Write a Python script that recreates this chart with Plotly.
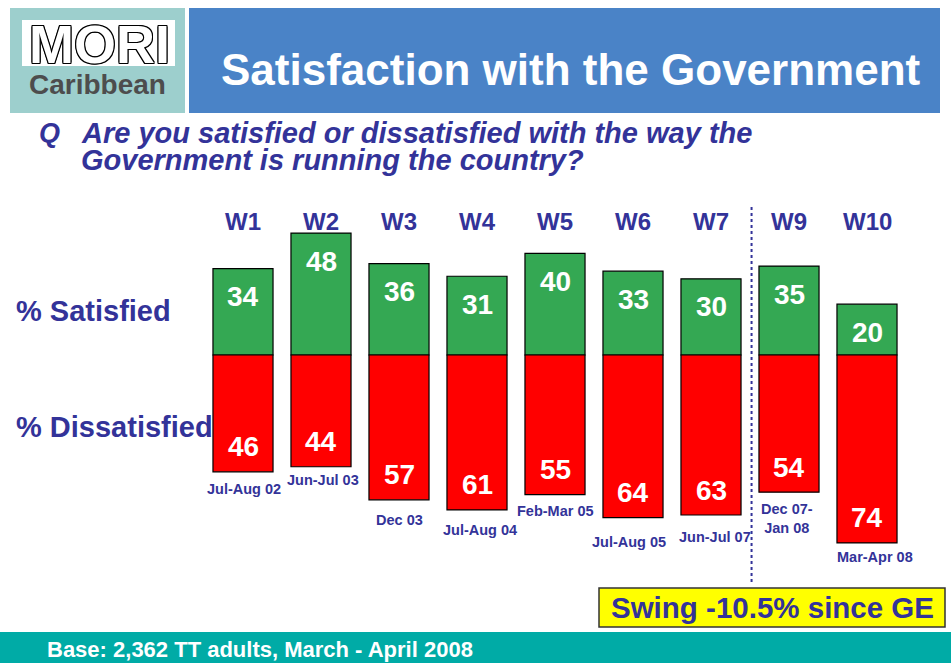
import plotly.graph_objects as go

# ---- data ----
waves = ["W1", "W2", "W3", "W4", "W5", "W6", "W7", "W9", "W10"]
periods = ["Jul-Aug 02", "Jun-Jul 03", "Dec 03", "Jul-Aug 04", "Feb-Mar 05",
           "Jul-Aug 05", "Jun-Jul 07", "Dec 07-<br>Jan 08", "Mar-Apr 08"]
satisfied = [34, 48, 36, 31, 40, 33, 30, 35, 20]
dissatisfied = [46, 44, 57, 61, 55, 64, 63, 54, 74]

# ---- layout helpers (pixel -> paper) ----
W, H = 951, 663
def px(x):
    return x / W
def py(y):
    return 1 - y / H

# vertical / horizontal offsets of period labels below bar bottoms (layout tweak, px)
period_dy = [17, 13, 20, 20, 16, 24, 22, 26, 14]
period_dx = [1, 2, 0, 3, 0, -4, 4, -2, 8]

NAVY = "#333399"
GREEN = "#34A853"
RED = "#FF0000"
FONT = "Arial, Liberation Sans, sans-serif"

fig = go.Figure()
fig.add_trace(go.Bar(x=waves, y=satisfied, name="% Satisfied",
                     marker=dict(color=GREEN, line=dict(color="black", width=1.2)),
                     hoverinfo="skip"))
fig.add_trace(go.Bar(x=waves, y=[-d for d in dissatisfied], name="% Dissatisfied",
                     marker=dict(color=RED, line=dict(color="black", width=1.2)),
                     hoverinfo="skip"))

ppu = 2.54            # pixels per percentage point
base_px = 355         # baseline pixel row
ytop = base_px / ppu
ybot = ytop - H / ppu
pitch = 78.0
c0 = 243.0
xlo = -c0 / pitch
xhi = (W - c0) / pitch

ann = []
shapes = []

# header boxes
shapes.append(dict(type="rect", xref="paper", yref="paper", x0=px(10), x1=px(185), y0=py(113), y1=py(8),
                   fillcolor="#9DCFCD", line=dict(width=0), layer="below"))
shapes.append(dict(type="rect", xref="paper", yref="paper", x0=px(22), x1=px(175), y0=py(66), y1=py(20),
                   fillcolor="white", line=dict(width=0), layer="below"))
shapes.append(dict(type="rect", xref="paper", yref="paper", x0=px(189), x1=px(940), y0=py(113), y1=py(8),
                   fillcolor="#4A83C7", line=dict(width=0), layer="below"))
# footer
shapes.append(dict(type="rect", xref="paper", yref="paper", x0=0, x1=1, y0=0, y1=py(632),
                   fillcolor="#00ABA6", line=dict(width=0), layer="below"))
# swing box
shapes.append(dict(type="rect", xref="paper", yref="paper", x0=px(599), x1=px(945), y0=py(627), y1=py(588),
                   fillcolor="#FFFF00", line=dict(color="#333333", width=1.5), layer="below"))
# dashed divider between W7 and W9
shapes.append(dict(type="line", xref="x", yref="paper", x0=6.52, x1=6.52, y0=py(582), y1=py(205),
                   line=dict(color=NAVY, width=2, dash="dot")))

outline = ("1px 1px 0 #000, -1px -1px 0 #000, 1px -1px 0 #000, -1px 1px 0 #000, "
           "0 1px 0 #000, 1px 0 0 #000, 0 -1px 0 #000, -1px 0 0 #000")
ann.append(dict(text="<b>MORI</b>", xref="paper", yref="paper", x=px(99), y=py(44),
                showarrow=False, xanchor="center", yanchor="middle",
                font=dict(family=FONT, size=54, color="white", shadow=outline)))
ann.append(dict(text="<b>Caribbean</b>", xref="paper", yref="paper", x=px(97), y=py(84),
                showarrow=False, xanchor="center", yanchor="middle",
                font=dict(family=FONT, size=28, color="#4D4D4D")))
ann.append(dict(text="<b>Satisfaction with the Government</b>", xref="paper", yref="paper",
                x=px(571), y=py(70), showarrow=False, xanchor="center", yanchor="middle",
                font=dict(family=FONT, size=44, color="white")))

# question
ann.append(dict(text="<b><i>Q</i></b>", xref="paper", yref="paper", x=px(37), y=py(133),
                showarrow=False, xanchor="left", yanchor="middle",
                font=dict(family=FONT, size=27, color=NAVY)))
ann.append(dict(text="<b><i>Are you satisfied or dissatisfied with the way the</i></b>", xref="paper",
                yref="paper", x=px(79), y=py(133), showarrow=False, xanchor="left", yanchor="middle",
                font=dict(family=FONT, size=29, color=NAVY)))
ann.append(dict(text="<b><i>Government is running the country?</i></b>", xref="paper",
                yref="paper", x=px(79), y=py(160), showarrow=False, xanchor="left", yanchor="middle",
                font=dict(family=FONT, size=29, color=NAVY)))

# row labels
ann.append(dict(text="<b>% Satisfied</b>", xref="paper", yref="paper", x=px(14), y=py(311),
                showarrow=False, xanchor="left", yanchor="middle",
                font=dict(family=FONT, size=29, color=NAVY)))
ann.append(dict(text="<b>% Dissatisfied</b>", xref="paper", yref="paper", x=px(14), y=py(427),
                showarrow=False, xanchor="left", yanchor="middle",
                font=dict(family=FONT, size=29, color=NAVY)))

for i, w in enumerate(waves):
    ann.append(dict(text=f"<b>{w}</b>", xref="x", yref="paper", x=w, y=py(222),
                    showarrow=False, xanchor="center", yanchor="middle",
                    font=dict(family=FONT, size=24, color=NAVY)))
    ann.append(dict(text=f"<b>{satisfied[i]}</b>", xref="x", yref="y", x=w, y=satisfied[i],
                    yshift=-28, showarrow=False, xanchor="center", yanchor="middle",
                    font=dict(family=FONT, size=28, color="white")))
    ann.append(dict(text=f"<b>{dissatisfied[i]}</b>", xref="x", yref="y", x=w, y=-dissatisfied[i],
                    yshift=25, showarrow=False, xanchor="center", yanchor="middle",
                    font=dict(family=FONT, size=28, color="white")))
    ann.append(dict(text=f"<b>{periods[i]}</b>", xref="x", yref="y", x=w, y=-dissatisfied[i],
                    yshift=-period_dy[i], xshift=period_dx[i], showarrow=False,
                    xanchor="center", yanchor="middle",
                    font=dict(family=FONT, size=14.5, color=NAVY)))

ann.append(dict(text="<b>Swing -10.5% since GE</b>", xref="paper", yref="paper", x=px(772), y=py(607),
                showarrow=False, xanchor="center", yanchor="middle",
                font=dict(family=FONT, size=29.5, color=NAVY)))
ann.append(dict(text="<b>Base: 2,362 TT adults, March - April 2008</b>", xref="paper", yref="paper",
                x=px(45), y=py(649), showarrow=False, xanchor="left", yanchor="middle",
                font=dict(family=FONT, size=22, color="white")))

fig.update_layout(
    width=W, height=H, margin=dict(l=0, r=0, t=0, b=0),
    paper_bgcolor="white", plot_bgcolor="rgba(0,0,0,0)",
    barmode="relative", bargap=0.23, showlegend=False,
    xaxis=dict(type="category", range=[xlo, xhi], visible=False, fixedrange=True),
    yaxis=dict(range=[ybot, ytop], visible=False, fixedrange=True),
    shapes=shapes, annotations=ann,
)

fig.write_html("out.html", config={"displayModeBar": False},
               post_script="document.body.style.margin='0';document.body.style.overflow='hidden';")
